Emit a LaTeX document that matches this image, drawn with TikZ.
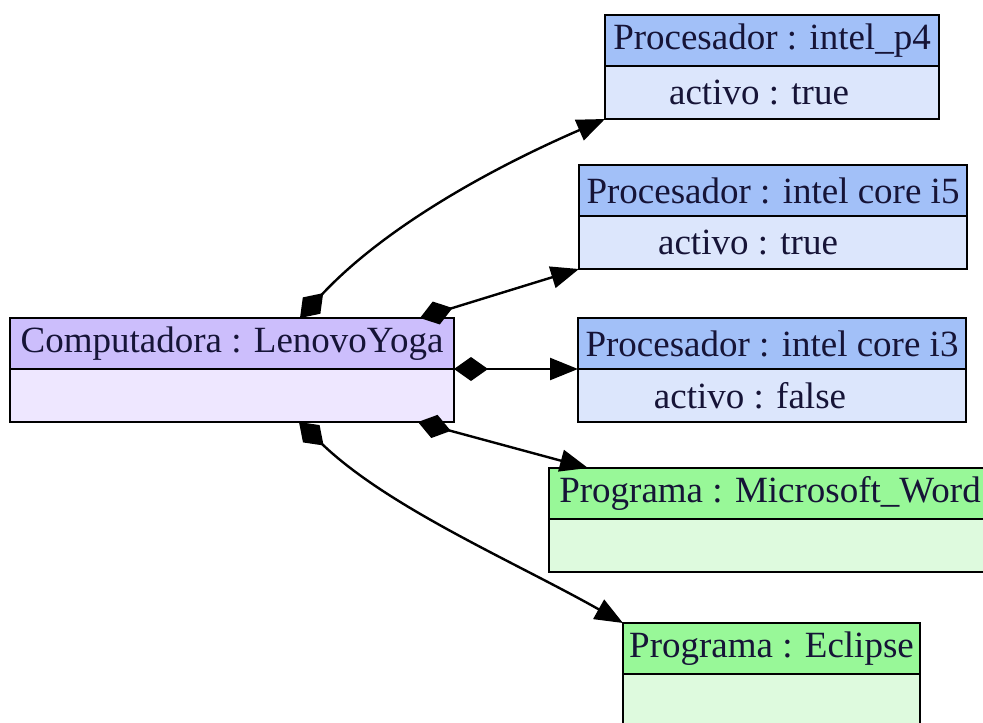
\documentclass[tikz,border=0pt]{standalone}
\usepackage{fontspec}
\setmainfont{Liberation Serif}
\usetikzlibrary{positioning}
\usetikzlibrary{calc}
\usetikzlibrary{arrows.meta}

\definecolor{compHead}{RGB}{204,190,252}
\definecolor{compBody}{RGB}{238,231,255}
\definecolor{procHead}{RGB}{162,192,248}
\definecolor{procBody}{RGB}{220,230,252}
\definecolor{progHead}{RGB}{152,248,152}
\definecolor{progBody}{RGB}{222,250,222}
\definecolor{txt}{RGB}{22,20,55}

\tikzset{>={Triangle[length=28pt,width=22pt]}}
\tikzset{
  classhead/.style={draw, line width=2.2pt, anchor=north west, inner sep=0pt,
    outer sep=0pt, minimum height=51pt, text=txt,
    font=\fontsize{37}{40}\selectfont},
  classbody/.style={draw, line width=2.2pt, inner sep=0pt, outer sep=0pt,
    minimum height=53pt, text=txt, font=\fontsize{37}{40}\selectfont},
  assoc/.style={line width=2.4pt, {Diamond[length=34pt,width=24pt]}->}
}

\begin{document}
\begin{tikzpicture}[x=1pt,y=-1pt]
      \useasboundingbox (0,0) rectangle (983,723);
      \clip (0,0) rectangle (983,723);

      % computadora
      \node [classhead, fill=compHead, minimum width=444pt] (comp) at (10,318)
      {Computadora : LenovoYoga};
      \node [classbody, fill=compBody, minimum width=444pt, below=0pt of comp]
      (compb) {};

      % procesadores
      \node [classhead, fill=procHead, minimum width=334pt] (p4) at (605,15)
      {Procesador : intel\_p4};
      \node [classbody, fill=procBody, minimum width=334pt, below=0pt of p4]
      (p4b) {activo : true\hspace*{26pt}};

      \node [classhead, fill=procHead, minimum width=388pt] (i5) at (579,165)
      {Procesador : intel core i5};
      \node [classbody, fill=procBody, minimum width=388pt, below=0pt of i5]
      (i5b) {activo : true\hspace*{50pt}};

      \node [classhead, fill=procHead, minimum width=388pt] (i3) at (578,318)
      {Procesador : intel core i3};
      \node [classbody, fill=procBody, minimum width=388pt, below=0pt of i3]
      (i3b) {activo : false\hspace*{44pt}};

      % programas
      \node [classhead, fill=progHead, minimum width=442pt] (word) at (549,468)
      {Programa : Microsoft\_Word};
      \node [classbody, fill=progBody, minimum width=442pt, below=0pt of word]
      (wordb) {};

      \node [classhead, fill=progHead, minimum width=297pt] (eclipse) at (623,623)
      {Programa : Eclipse};
      \node [classbody, fill=progBody, minimum width=297pt, below=0pt of eclipse]
      (eclipseb) {};

      % composiciones
      \draw [assoc] ($(comp.north west)+(290,0)$)
      .. controls +(82,-88) and +(-120,52) .. (p4b.south west);

      \draw [assoc] ($(comp.north west)+(410,0)$) -- (i5b.south west);

      \draw [assoc] (comp.south east) -- (i3.south west);

      \draw [assoc] ($(compb.south west)+(408,0)$) -- ($(word.north west)+(39,0)$);

      \draw [assoc] ($(compb.south west)+(289,0)$)
      .. controls +(90,86) and +(-110,-62) .. (eclipse.north west);
  \end{tikzpicture}
\end{document}
